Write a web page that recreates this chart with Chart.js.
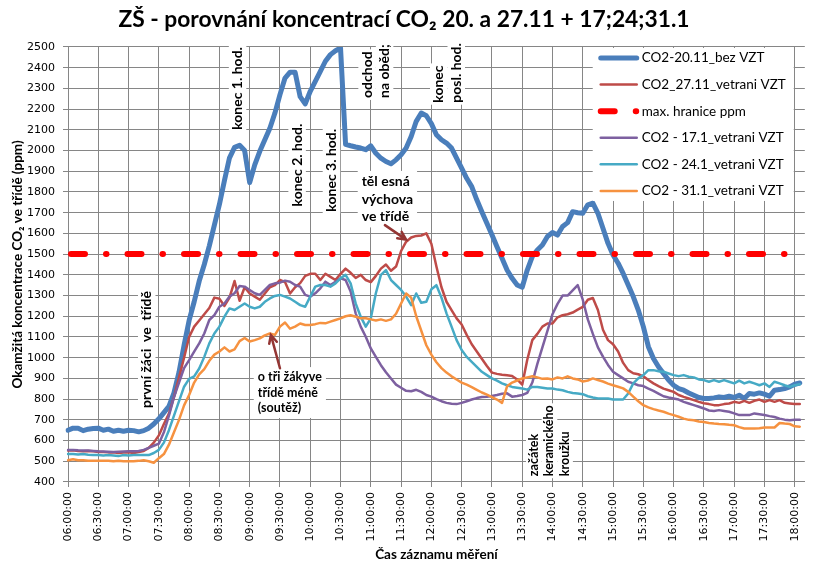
<!DOCTYPE html>
<html>
<head>
<meta charset="utf-8">
<script src="https://cdn.jsdelivr.net/npm/chart.js@4.4.1/dist/chart.umd.min.js"></script>
<style>
  html, body { margin: 0; padding: 0; background: #fff; }
  #wrap { width: 813px; height: 568px; }
</style>
</head>
<body>
<div id="wrap"><canvas id="co2Chart" width="813" height="568"></canvas></div>
<script>
// mereni po 5 minutach od 06:00 do 18:05, osa konci v 18:10
const startMinute = 360;
const endMinute = 1090;
const stepMinutes = 5;
const limitPpm = 1500;

const co2_20_11 = [
  650, 660, 660, 648, 655, 658, 660, 650, 655, 645, 650, 645, 650, 648, 642, 648, 660,
  680, 705, 735, 765, 830, 930, 1060, 1180, 1270, 1370, 1450, 1540, 1640, 1740,
  1855, 1965, 2015, 2025, 2000, 1845, 1931, 1996, 2052, 2108, 2181, 2270, 2350, 2378,
  2378, 2260, 2225, 2286, 2334, 2382, 2431, 2463, 2482, 2495, 2030, 2023, 2017, 2012,
  2004, 2023, 1987, 1963, 1947, 1936, 1955, 1980, 2012, 2068, 2141, 2181, 2168, 2130,
  2076, 2052, 2036, 2012, 1963, 1915, 1866, 1826, 1762, 1705, 1649, 1593, 1536, 1480,
  1423, 1383, 1351, 1340, 1423, 1488, 1520, 1544, 1585, 1604, 1592, 1633, 1652, 1705,
  1700, 1697, 1738, 1746, 1697, 1625, 1552, 1496, 1456, 1407, 1351, 1295, 1230, 1150,
  1053, 996, 956, 924, 892, 867, 851, 843, 830, 819, 808, 803, 803, 806, 811, 808,
  814, 808, 819, 803, 827, 824, 830, 824, 814, 843, 846, 851, 859, 872, 878
];
const co2_27_11 = [
  552, 553, 550, 548, 550, 548, 545, 545, 543, 543, 540, 542, 543, 540, 545, 550, 565,
  590, 625, 680, 730, 810, 905, 1000, 1100, 1150, 1180, 1210, 1240, 1290, 1285,
  1250, 1290, 1370, 1275, 1340, 1310, 1295, 1280, 1310, 1340, 1350, 1375, 1365, 1310,
  1340, 1360, 1395, 1405, 1405, 1375, 1405, 1390, 1375, 1405, 1430, 1410, 1385, 1400,
  1375, 1365, 1395, 1430, 1450, 1420, 1440, 1515, 1560, 1580, 1588, 1590, 1600, 1550,
  1440, 1340, 1270, 1230, 1190, 1160, 1110, 1065, 1030, 995, 960, 928, 922, 918,
  915, 912, 895, 870, 990, 1085, 1115, 1150, 1165, 1165, 1195, 1205, 1210, 1218,
  1232, 1245, 1280, 1288, 1230, 1135, 1085, 1065, 1030, 975, 940, 925, 920, 910,
  892, 876, 863, 851, 843, 835, 820, 811, 803, 795, 787, 780, 776, 771, 771, 776,
  779, 787, 782, 792, 782, 792, 798, 787, 795, 787, 795, 782, 779, 776, 776
];
const co2_17_1 = [
  555, 555, 553, 552, 552, 550, 548, 547, 546, 545, 546, 547, 548, 549, 550, 555, 565,
  575, 585, 640, 720, 810, 880, 950, 988, 1029, 1069, 1117, 1182, 1206, 1246,
  1262, 1295, 1311, 1346, 1343, 1327, 1311, 1303, 1327, 1351, 1359, 1362, 1372, 1367,
  1351, 1343, 1303, 1295, 1311, 1335, 1367, 1351, 1367, 1383, 1375, 1320, 1214, 1150,
  1101, 1045, 1004, 964, 930, 900, 870, 855, 840, 838, 845, 835, 820, 812,
  800, 790, 782, 778, 776, 782, 790, 798, 805, 810, 812, 815, 820, 826,
  828, 812, 815, 820, 830, 880, 970, 1050, 1130, 1210, 1260, 1300, 1300, 1325,
  1350, 1280, 1185, 1115, 1050, 1005, 965, 932, 916, 900, 884, 876, 867, 863,
  851, 840, 827, 814, 808, 803, 798, 787, 779, 771, 763, 755, 745, 743, 747, 743,
  739, 731, 723, 723, 723, 731, 727, 723, 718, 714, 706, 701, 698, 701, 700
];
const co2_24_1 = [
  535, 535, 533, 535, 532, 530, 530, 528, 530, 528, 525, 530, 528, 530, 530, 530, 530,
  540, 555, 590, 650, 720, 790, 860, 898, 910, 948, 1004, 1069, 1117, 1150,
  1198, 1238, 1230, 1246, 1262, 1246, 1238, 1246, 1270, 1286, 1298, 1303, 1295, 1286,
  1270, 1254, 1246, 1295, 1343, 1351, 1351, 1343, 1359, 1383, 1400, 1359, 1262, 1198,
  1150, 1190, 1311, 1400, 1423, 1375, 1351, 1327, 1295, 1254, 1310, 1265, 1270, 1330,
  1350, 1290, 1214, 1150, 1085, 1037, 1004, 980, 956, 932, 916, 900, 889, 876,
  867, 859, 855, 851, 846, 859, 859, 855, 851, 851, 846, 843, 835, 830,
  827, 824, 814, 808, 803, 803, 803, 798, 798, 798, 827, 876, 900, 916,
  940, 940, 935, 932, 924, 916, 911, 916, 908, 905, 895, 892, 884, 892, 884, 892,
  884, 876, 889, 876, 884, 876, 867, 876, 859, 884, 876, 867, 859, 867, 872
];
const co2_31_1 = [
  505, 510, 505, 505, 503, 503, 503, 503, 502, 500, 502, 500, 500, 500, 502, 505, 500,
  493, 515, 535, 580, 640, 700, 770, 820, 880, 920, 945, 985, 1015, 1030,
  1050, 1030, 1040, 1080, 1095, 1078, 1085, 1093, 1108, 1117, 1110, 1150, 1170, 1140,
  1150, 1165, 1158, 1158, 1162, 1168, 1166, 1174, 1182, 1190, 1200, 1205, 1198, 1190,
  1190, 1185, 1180, 1185, 1178, 1185, 1212, 1262, 1310, 1290, 1200, 1130, 1060, 1015,
  978, 950, 928, 910, 895, 880, 870, 858, 845, 832, 822, 810, 798, 782,
  862, 880, 890, 900, 905, 910, 905, 898, 900, 895, 905, 900, 910, 900,
  895, 885, 890, 900, 892, 885, 875, 867, 860, 852, 835, 812, 790, 771,
  760, 752, 745, 739, 730, 723, 715, 706, 700, 698, 692, 690, 685, 682, 680, 679,
  676, 674, 665, 658, 658, 658, 660, 663, 663, 663, 685, 682, 680, 669, 667
];

const seriesNames = [
  "CO2-20.11_bez VZT",
  "CO2_27.11_vetrani VZT",
  "max. hranice ppm",
  "CO2 - 17.1_vetrani VZT",
  "CO2 - 24.1_vetrani VZT",
  "CO2 - 31.1_vetrani VZT"
];

// popisky: [minuta od 06:00, ppm] = spodni okraj (svisle) / levy horni roh (vodorovne)
const verticalNotes = [
  { lines: ["konec 1. hod."], at: [168, 2100], size: 14 },
  { lines: ["konec 2. hod."], at: [227, 1730], size: 14 },
  { lines: ["konec 3. hod."], at: [261, 1705], size: 14 },
  { lines: ["odchod", "na oběd;"], at: [305, 2254], size: 14 },
  { lines: ["konec", "posl. hod."], at: [376, 2231], size: 14 },
  { lines: ["první žáci  ve  třídě"], at: [78, 757], size: 14 },
  { lines: ["začátek", "keramického", "kroužku"], at: [477, 428], size: 12.5 }
];
const textNotes = [
  { lines: ["těl esná", "výchova", "ve třídě"], at: [291, 1892], size: 14 },
  { lines: ["o tři žákyve", "třídě méně", "(soutěž)"], at: [188, 945], size: 12.5 }
];
const arrows = [
  { from: [314, 1640], to: [335, 1570] },
  { from: [210, 949], to: [201, 1110] }
];

function fmtTime(min) {
  const h = Math.floor(min / 60), m = min % 60;
  return String(h).padStart(2, "0") + ":" + String(m).padStart(2, "0") + ":00";
}
const times = [];
for (let m = startMinute; m <= endMinute; m += stepMinutes) times.push(fmtTime(m));
const limitLine = co2_20_11.map(() => limitPpm);

const xPix = (chart, minute) => chart.scales.x.getPixelForValue(minute / stepMinutes);
const yPix = (chart, ppm) => chart.scales.y.getPixelForValue(ppm);

const notesPlugin = {
  id: "notes",
  beforeDatasetsDraw(chart) {
    const ctx = chart.ctx;
    ctx.save();
    ctx.textBaseline = "middle";
    ctx.textAlign = "left";
    verticalNotes.forEach((n) => {
      const lh = n.size * 1.25;
      ctx.font = "bold " + n.size + "px Lato";
      ctx.save();
      ctx.translate(xPix(chart, n.at[0]), yPix(chart, n.at[1]));
      ctx.rotate(-Math.PI / 2);
      n.lines.forEach((t, i) => {
        const off = (i - (n.lines.length - 1) / 2) * lh;
        const w = ctx.measureText(t).width;
        ctx.fillStyle = "#fff";
        ctx.fillRect(-2, off - lh / 2, w + 4, lh);
        ctx.fillStyle = "#000";
        ctx.fillText(t, 0, off);
      });
      ctx.restore();
    });
    textNotes.forEach((n) => {
      const lh = n.size * 1.25;
      ctx.font = "bold " + n.size + "px Lato";
      const x = xPix(chart, n.at[0]);
      const y = yPix(chart, n.at[1]);
      const w = Math.max(...n.lines.map((t) => ctx.measureText(t).width));
      ctx.fillStyle = "#fff";
      ctx.fillRect(x - 4, y - 2, w + 8, lh * n.lines.length + 4);
      ctx.fillStyle = "#000";
      n.lines.forEach((t, i) => ctx.fillText(t, x, y + lh * (i + 0.5)));
    });
    ctx.restore();
  },
  afterDatasetsDraw(chart) {
    const ctx = chart.ctx;
    ctx.save();
    ctx.strokeStyle = "#943634";
    ctx.lineWidth = 2.5;
    ctx.lineCap = "round";
    arrows.forEach((a) => {
      const x1 = xPix(chart, a.from[0]), y1 = yPix(chart, a.from[1]);
      const x2 = xPix(chart, a.to[0]), y2 = yPix(chart, a.to[1]);
      const ang = Math.atan2(y2 - y1, x2 - x1);
      ctx.beginPath();
      ctx.moveTo(x1, y1);
      ctx.lineTo(x2, y2);
      ctx.moveTo(x2 - 9 * Math.cos(ang - 0.45), y2 - 9 * Math.sin(ang - 0.45));
      ctx.lineTo(x2, y2);
      ctx.lineTo(x2 - 9 * Math.cos(ang + 0.45), y2 - 9 * Math.sin(ang + 0.45));
      ctx.stroke();
    });

    // legenda uvnitr grafu, konci tesne pred carou 18:00
    const right = xPix(chart, 720) - 1;
    const bx = right - 201, by = chart.chartArea.top + 1;
    ctx.fillStyle = "#fff";
    ctx.fillRect(bx, by, 201, 153);
    ctx.font = "13.5px Lato";
    ctx.textBaseline = "middle";
    ctx.textAlign = "left";
    chart.data.datasets.forEach((ds, i) => {
      const y = by + 10 + i * 26.6;
      ctx.strokeStyle = ds.borderColor;
      ctx.lineWidth = ds.borderWidth;
      ctx.lineCap = "round";
      ctx.setLineDash(ds.borderDash || []);
      ctx.lineDashOffset = 0;
      ctx.beginPath();
      ctx.moveTo(bx + 8, y);
      ctx.lineTo(bx + 44, y);
      ctx.stroke();
      ctx.setLineDash([]);
      ctx.fillStyle = "#000";
      ctx.fillText(ds.label, bx + 49, y);
    });
    ctx.restore();
  }
};

Chart.defaults.font.family = "Lato";
Chart.defaults.color = "#000";

new Chart(document.getElementById("co2Chart"), {
  type: "line",
  data: {
    labels: times,
    datasets: [
      { label: seriesNames[0], data: co2_20_11, borderColor: "#4a7ebb", borderWidth: 5, order: 6 },
      { label: seriesNames[1], data: co2_27_11, borderColor: "#be4b48", borderWidth: 2.5, order: 5 },
      {
        label: seriesNames[2], data: limitLine, borderColor: "#ff0000", borderWidth: 6, order: 4,
        borderDash: [14, 21, 0.5, 21], borderDashOffset: -3
      },
      { label: seriesNames[3], data: co2_17_1, borderColor: "#7d60a0", borderWidth: 2.5, order: 3 },
      { label: seriesNames[4], data: co2_24_1, borderColor: "#46aac5", borderWidth: 2.5, order: 2 },
      { label: seriesNames[5], data: co2_31_1, borderColor: "#f69240", borderWidth: 2.5, order: 1 }
    ].map((ds) => Object.assign({ pointRadius: 0, tension: 0, fill: false, borderCapStyle: "round", borderJoinStyle: "round" }, ds))
  },
  options: {
    responsive: false,
    animation: false,
    events: [],
    layout: { padding: { right: 5 } },
    plugins: {
      legend: { display: false },
      tooltip: { enabled: false },
      title: {
        display: true,
        text: "ZŠ - porovnání koncentrací CO₂ 20. a 27.11 + 17;24;31.1",
        font: { size: 22.8, weight: "bold" },
        padding: { top: 6, bottom: 13.6 }
      }
    },
    scales: {
      x: {
        grid: { color: "#868686", tickLength: 5 },
        border: { color: "#868686" },
        ticks: {
          autoSkip: false,
          minRotation: 90,
          maxRotation: 90,
          padding: 5,
          font: { family: "DejaVu Sans", size: 11 },
          callback: (v, i) => (i % 6 === 0 ? times[i] : null)
        },
        title: {
          display: true,
          text: "Čas záznamu měření",
          font: { size: 13.5, weight: "bold" },
          padding: { top: 0, bottom: 5 }
        },
        afterFit: (scale) => { scale.height = 86; }
      },
      y: {
        min: 400,
        max: 2500,
        grid: { color: "#868686", tickLength: 5 },
        border: { color: "#868686" },
        ticks: {
          stepSize: 100,
          padding: 8,
          font: { family: "DejaVu Sans", size: 11 },
          callback: (v) => String(v)
        },
        title: {
          display: true,
          text: "Okamžitá koncentrace CO₂ ve třídě (ppm)",
          font: { size: 13.5, weight: "bold" },
          padding: { top: 10, bottom: 0 }
        },
        afterFit: (scale) => { scale.width = 68; }
      }
    }
  },
  plugins: [notesPlugin]
});
</script>
</body>
</html>
